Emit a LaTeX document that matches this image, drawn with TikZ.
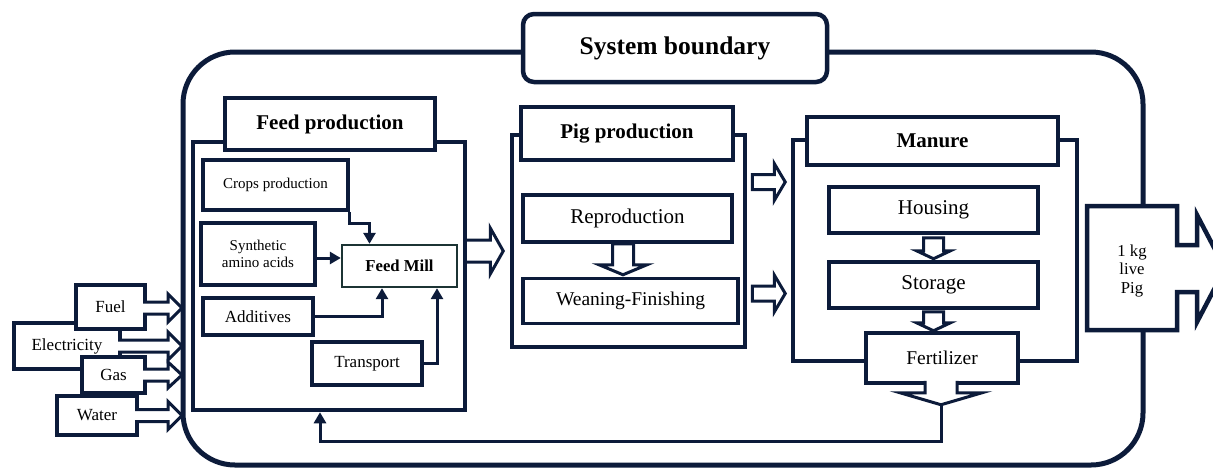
\documentclass[tikz,border=0pt]{standalone}
\usepackage{fontspec}
\setmainfont{Liberation Serif}
\usetikzlibrary{arrows.meta,positioning,calc}
\definecolor{navy}{RGB}{12,27,58}
\definecolor{millline}{RGB}{28,52,52}
% hollow block arrows: tail, length, shaft half width, head half width, head length
\newcommand{\fatright}[5]{%
  \filldraw[hol] ($#1+(0,-#3)$) -- ++({#2-#5},0) -- ++(0,{#3-#4}) -- ($#1+(#2,0)$)
    -- ($#1+({#2-#5},#4)$) -- ++(0,{#3-#4}) -- ($#1+(0,#3)$)}
\newcommand{\fatdown}[5]{%
  \filldraw[hol] ($#1+(-#3,0)$) -- ++(0,{#2-#5}) -- ++({#3-#4},0) -- ($#1+(0,#2)$)
    -- ($#1+(#4,{#2-#5})$) -- ++({#3-#4},0) -- ($#1+(#3,0)$)}
\begin{document}
\begin{tikzpicture}[x=1pt,y=-1pt,
  bnd/.style={draw=navy,line width=5pt,rounded corners=52pt},
  sysbox/.style={draw=navy,line width=4.5pt,rounded corners=11pt,fill=white,
                 font=\bfseries\fontsize{25.5}{30}\selectfont},
  grp/.style={draw=navy,line width=4.5pt,fill=white,inner sep=0pt},
  ttl/.style={draw=navy,line width=4.5pt,fill=white,inner sep=1pt,
              font=\bfseries\fontsize{21}{25}\selectfont},
  bx/.style={draw=navy,line width=3.5pt,fill=white,align=center,inner sep=1pt},
  inbox/.style={draw=navy,line width=4pt,fill=white,inner sep=1pt,
                font=\fontsize{17}{20}\selectfont},
  hol/.style={draw=navy,line width=3pt,fill=white},
  ar/.style={-{Triangle[length=11pt,width=12pt]},draw=navy,line width=3pt},
  big/.style={font=\fontsize{21}{25}\selectfont},
  mid/.style={font=\fontsize{19.5}{23}\selectfont},
  sml/.style={font=\fontsize{17}{20}\selectfont},
  tny/.style={font=\fontsize{15}{17}\selectfont},
]
\useasboundingbox (0,0) rectangle (1213,467);
% ============ system boundary ============
\draw[bnd] (183,52) rectangle (1143,465);
\node[sysbox,minimum width=304pt,minimum height=68pt] (sysb) at (675,48) {System boundary};
% ============ inputs ============
\node[inbox,minimum width=106pt,minimum height=46pt] (elec) at (67,346) {Electricity};
\fatright{([xshift=-4pt]elec.east)}{64}{6}{14}{14};
\node[inbox,minimum width=69pt,minimum height=44pt] (fuel) at (110.5,307) {Fuel};
\fatright{([xshift=-4pt,yshift=-1pt]fuel.east)}{39}{6}{14}{14};
\node[inbox,minimum width=63pt,minimum height=36pt] (gas) at (113.5,375) {Gas};
\fatright{([xshift=-4pt]gas.east)}{39}{6}{13}{14};
\node[inbox,minimum width=80pt,minimum height=39pt] (water) at (97,415.5) {Water};
\fatright{([xshift=-4pt]water.east)}{47}{6}{14}{14};
% ============ feed production ============
\node[grp,minimum width=272pt,minimum height=268pt] (feedbox) at (329,276) {};
\node[ttl,minimum width=210pt,minimum height=52pt] (feedttl) at (330,124) {Feed production};
\node[bx,tny,minimum width=145pt,minimum height=50pt] (crops) at (275.5,185) {Crops production};
\node[bx,tny,minimum width=114pt,minimum height=62pt] (synth) at (258,254) {Synthetic\\amino acids};
\node[bx,draw=millline,line width=2.4pt,font=\bfseries\fontsize{16.7}{20}\selectfont,
      minimum width=115pt,minimum height=42pt] (mill) at (399.5,266) {Feed Mill};
\node[bx,sml,minimum width=110pt,minimum height=37pt] (addit) at (258,316.5) {Additives};
\node[bx,sml,minimum width=110pt,minimum height=43pt] (transp) at (367,363.5) {Transport};
\draw[ar] (crops.south east) -- ++(0,12) -| ([xshift=-30pt]mill.north);
\draw[ar] ([yshift=-4pt]synth.east) -- ([yshift=-4pt]synth.east -| mill.west);
\draw[ar] (addit.east) -| ([xshift=-17.5pt]mill.south);
\draw[ar] (transp.east) -| ([xshift=37.5pt]mill.south);
\fatright{([xshift=-2pt,yshift=25pt]feedbox.east)}{38}{11}{23}{13} -- cycle;
% ============ pig production ============
\node[grp,minimum width=233pt,minimum height=212pt] (pigbox) at (628.5,241) {};
\node[ttl,minimum width=212pt,minimum height=53pt] (pigttl) at (627,133.5) {Pig production};
\node[bx,big,minimum width=209pt,minimum height=47pt] (repro) at (627.5,218.5) {Reproduction};
\node[bx,mid,minimum width=215pt,minimum height=45pt,below=33pt of repro,xshift=3pt] (wean) {Weaning-Finishing};
\fatdown{([xshift=-4.5pt]repro.south)}{31}{10.5}{24}{10} -- cycle;
\coordinate (pm1) at ([xshift=5pt,yshift=59pt]pigbox.east);
\coordinate (pm2) at ([xshift=5pt,yshift=-52.5pt]pigbox.east);
\fatright{(pm1)}{33}{7.5}{18.5}{11} -- cycle;
\fatright{(pm2)}{33}{7.5}{18.5}{11} -- cycle;
% ============ manure ============
\node[grp,minimum width=284pt,minimum height=221pt] (manbox) at (935,250.5) {};
\node[ttl,minimum width=251pt,minimum height=48pt] (manttl) at (932.5,141) {Manure};
\node[bx,big,minimum width=209pt,minimum height=46pt] (housing) at (933.5,210) {Housing};
\node[bx,big,minimum width=209pt,minimum height=46pt,below=25.5pt of housing] (storage) {Storage};
\node[bx,mid,minimum width=152pt,minimum height=50pt] (fert) at (942,358) {Fertilizer};
\fatdown{([yshift=-3pt]housing.south)}{21}{10}{17}{8} -- cycle;
\fatdown{([yshift=-2pt]storage.south)}{19}{10}{17}{8} -- cycle;
\coordinate (fertip) at ([xshift=-1pt,yshift=-20pt]fert.south);
\draw[ar] (fertip) -- ++(0,37) -| ([xshift=-9pt]feedbox.south);
\fatdown{([xshift=-1pt,yshift=4pt]fert.south)}{24}{16}{41}{12};
% ============ output ============
\draw[hol,line width=4.5pt] (1087,206) -- (1177,206) -- (1177,245) -- (1197,245) -- (1197,215)
  -- (1225,268.5) -- (1197,322) -- (1197,292) -- (1177,292) -- (1177,330) -- (1087,330) -- cycle;
\node[align=center,font=\fontsize{16.7}{19}\selectfont] (onekg) at (1132,271) {1 kg\\live\\Pig};
\end{tikzpicture}
\end{document}
